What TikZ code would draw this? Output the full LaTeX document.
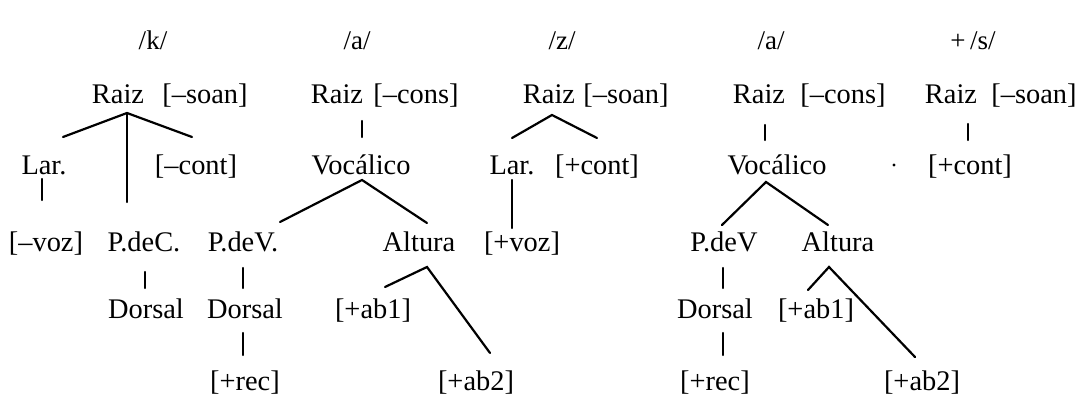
\documentclass[tikz,border=0pt]{standalone}
\usepackage{fontspec}
\setmainfont{Liberation Serif}
\usetikzlibrary{positioning,calc}

\begin{document}
\begin{tikzpicture}[x=0.5pt,y=-0.5pt,
    feat/.style={anchor=base, inner sep=0pt, font=\fontsize{14.2}{17}\selectfont},
    seg/.style={anchor=base, inner sep=0pt, font=\fontsize{13.5}{15}\selectfont},
    branch/.style={line width=1.1pt, line cap=round}]
    \useasboundingbox (0,0) rectangle (1088,401);

    % Segments
    \node[seg] (segK)  at (153,50) {/k/};
    \node[seg] (segA1) at (357,50) {/a/};
    \node[seg] (segZ)  at (562,50) {/z/};
    \node[seg] (segA2) at (771,50) {/a/};
    \node[seg] (segS)  at (973,50) {+\,/s/};

    % Root nodes
    \node[feat] (raizK) at (118,104) {Raiz};
    \node[feat] (soanK) at (205,104) {[–soan]};
    \node[feat] (raizA) at (337,104) {Raiz};
    \node[feat] (consA) at (416,104) {[–cons]};
    \node[feat] (raizZ) at (549,104) {Raiz};
    \node[feat] (soanZ) at (626,104) {[–soan]};
    \node[feat] (raizB) at (759,104) {Raiz};
    \node[feat] (consB) at (843,104) {[–cons]};
    \node[feat] (raizS) at (951,104) {Raiz};
    \node[feat] (soanS) at (1034,104) {[–soan]};

    % Second row
    \node[feat] (larK)  at (44,175)  {Lar.};
    \node[feat] (contK) at (196,175) {[–cont]};
    \node[feat] (vocA)  at (361,175) {Vocálico};
    \node[feat] (larZ)  at (512,175) {Lar.};
    \node[feat] (contZ) at (597,175) {[+cont]};
    \node[feat] (vocB)  at (777,175) {Vocálico};
    \node[feat] (contS) at (970,175) {[+cont]};
    \fill (894,165) circle (0.8pt);

    % Third row
    \node[feat] (vozK)  at (46,251)  {[–voz]};
    \node[feat] (pdcK)  at (144,251) {P.deC.};
    \node[feat] (pdvA)  at (243,251) {P.deV.};
    \node[feat] (altA)  at (419,251) {Altura};
    \node[feat] (vozZ)  at (522,251) {[+voz]};
    \node[feat] (pdvB)  at (724,251) {P.deV};
    \node[feat] (altB)  at (838,251) {Altura};

    % Fourth row
    \node[feat] (dorK)  at (146,318) {Dorsal};
    \node[feat] (dorA)  at (245,318) {Dorsal};
    \node[feat] (abA)   at (373,318) {[+ab1]};
    \node[feat] (dorB)  at (715,318) {Dorsal};
    \node[feat] (abB)   at (816,318) {[+ab1]};

    % Fifth row
    \node[feat] (recA)  at (245,390) {[+rec]};
    \node[feat] (abbA)  at (476,390) {[+ab2]};
    \node[feat] (recB)  at (715,390) {[+rec]};
    \node[feat] (abbB)  at (922,390) {[+ab2]};

    % Branch points
    \coordinate (rootK) at (127,113);
    \coordinate (rootZ) at (552,115);
    \coordinate (vocAtop) at (362,180);
    \coordinate (vocBtop) at (766,182);
    \coordinate (altAtop) at (427,267);
    \coordinate (altBtop) at (829,267);

    % /k/
    \draw[branch] (63,137) -- (rootK) -- (192,137);
    \draw[branch] (rootK) -- (127,202);
    \draw[branch] (42,179) -- (42,200);
    \draw[branch] (145,272) -- (145,288);

    % /a/
    \draw[branch] (362,121) -- (362,137);
    \draw[branch] (280,222) -- (vocAtop) -- (427,223);
    \draw[branch] (243,268) -- (243,288);
    \draw[branch] (243,333) -- (243,355);
    \draw[branch] (385,287) -- (altAtop) -- (490,353);

    % /z/
    \draw[branch] (512,138) -- (rootZ) -- (597,138);
    \draw[branch] (512,180) -- (512,228);

    % /a/
    \draw[branch] (765,125) -- (765,140);
    \draw[branch] (722,225) -- (vocBtop) -- (828,225);
    \draw[branch] (723,268) -- (723,288);
    \draw[branch] (723,333) -- (723,355);
    \draw[branch] (808,290) -- (altBtop) -- (915,357);

    % +/s/
    \draw[branch] (968,124) -- (968,140);
\end{tikzpicture}
\end{document}
